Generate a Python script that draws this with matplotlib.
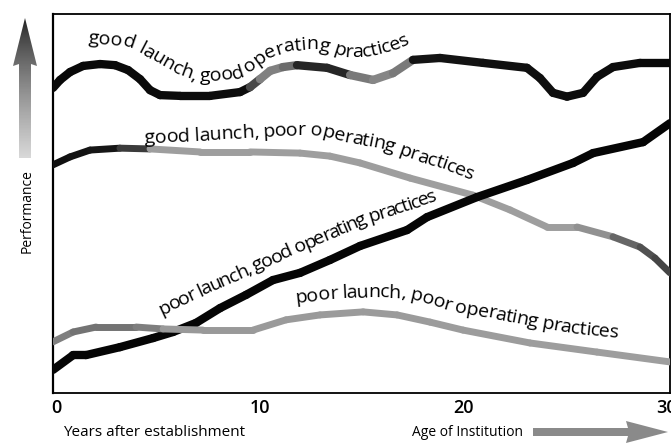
import numpy as np
import matplotlib
matplotlib.use("Agg")
import matplotlib.pyplot as plt
from matplotlib.collections import LineCollection
from matplotlib.font_manager import FontProperties
from matplotlib.transforms import IdentityTransform
from matplotlib.patches import Polygon

# ---- data (years after establishment, performance 0-100) ----
gg_years = [-0.15, 0.20, 0.69, 1.33, 2.16, 2.90, 3.54, 4.13, 4.62, 5.11, 6.09, 7.57,
            9.04, 9.53, 10.02, 10.52, 11.15, 11.84, 13.32, 14.45, 15.58, 16.56, 17.54,
            18.87, 20.98, 23.14, 23.78, 24.42, 25.11, 25.90, 26.58, 27.37, 28.70, 30.17]
gg_perf = [80.5, 82.6, 84.7, 86.3, 86.8, 86.5, 85.2, 82.8, 79.9, 78.6, 78.4, 78.4,
           79.4, 80.7, 82.8, 85.0, 86.0, 86.5, 85.8, 83.9, 82.6, 84.4, 87.9,
           88.4, 87.1, 85.8, 83.1, 79.2, 78.2, 79.2, 83.4, 86.0, 87.1, 87.1]

gp_years = [-0.15, 0.69, 1.67, 3.14, 4.62, 7.08, 9.53, 11.99, 13.46, 14.94, 17.40,
            20.49, 22.31, 24.13, 25.60, 27.37, 28.70, 29.43, 30.17]
gp_perf = [60.2, 62.3, 64.1, 64.6, 64.4, 63.6, 63.6, 63.3, 62.5, 60.7, 56.7,
           52.2, 48.3, 43.8, 43.8, 41.2, 38.5, 35.6, 31.7]

pg_years = [-0.15, 0.84, 1.47, 3.14, 4.77, 5.75, 6.88, 8.06, 9.34, 10.66, 11.99,
            13.46, 14.94, 17.25, 18.23, 20.69, 23.14, 25.41, 26.39, 28.85, 30.17]
pg_perf = [6.1, 10.0, 10.0, 12.1, 14.5, 16.1, 18.5, 22.4, 25.9, 29.8, 31.7,
           35.1, 38.8, 43.0, 46.4, 51.7, 56.2, 60.7, 63.3, 66.2, 71.2]

pp_years = [-0.15, 0.84, 1.97, 3.93, 5.26, 7.22, 9.68, 11.30, 12.97, 15.09, 16.76,
            18.38, 20.00, 23.29, 26.58, 30.17]
pp_perf = [13.5, 16.1, 17.4, 17.4, 16.9, 16.6, 16.6, 19.3, 20.6, 21.4, 20.6,
           18.7, 16.6, 13.2, 10.8, 8.2]

tick_years = [0, 10, 20, 30]
tick_labels = ["0", "10", "20", "30"]

curve_labels = ["good launch, good operating practices",
                "good launch, poor operating practices",
                "poor launch, good operating practices",
                "poor launch, poor operating practices"]

# ---- layout ----
W, H = 671, 443
fig = plt.figure(figsize=(W / 100, H / 100), dpi=100)
ax = fig.add_axes([53 / W, 50 / H, 617 / W, 379 / H])
ax.set_xlim(-0.15, 30.17)
ax.set_ylim(0, 100)

FONT = "Open Sans"


def shaded_line(x, y, shade, lw):
    # grey level along the curve: anchors (year, grey)
    x = np.asarray(x, float)
    y = np.asarray(y, float)
    pts = np.column_stack([x, y])
    segs = np.stack([pts[:-1], pts[1:]], axis=1)
    mids = (x[:-1] + x[1:]) / 2
    g = np.interp(mids, shade[0], shade[1])
    lc = LineCollection(segs, colors=[(v, v, v) for v in g], linewidths=lw,
                        capstyle="round", joinstyle="round", zorder=3)
    ax.add_collection(lc)


shaded_line(gg_years, gg_perf,
            ([-1, 9.3, 10.2, 11.3, 12.2, 14.2, 15.2, 17.0, 18.0, 31],
             [0.03, 0.05, 0.5, 0.5, 0.15, 0.15, 0.55, 0.5, 0.08, 0.03]), 6)
shaded_line(gp_years, gp_perf,
            ([-1, 3.5, 5.0, 26.0, 28.5, 31], [0.05, 0.1, 0.62, 0.62, 0.35, 0.2]), 5)
shaded_line(pg_years, pg_perf, ([-1, 31], [0.02, 0.02]), 6)
shaded_line(pp_years, pp_perf,
            ([-1, 1, 4, 6, 31], [0.6, 0.45, 0.45, 0.6, 0.62]), 5)

ax.set_xticks(tick_years)
ax.set_xticklabels(tick_labels, fontsize=13, family=FONT, fontweight="semibold")
ax.tick_params(axis="x", length=0, pad=4)
ax.set_yticks([])
for side in ["left", "bottom", "top", "right"]:
    ax.spines[side].set_color("black")
    ax.spines[side].set_linewidth(1.3)
ax.spines["left"].set_linewidth(1.6)

# ---- labels that bend along the curves ----
fig.canvas.draw()
renderer = fig.canvas.get_renderer()


def text_on_path(text, path_px, size):
    fp = FontProperties(family=FONT, size=size)

    def adv(s):
        w1 = renderer.get_text_width_height_descent(s + "l", fp, ismath=False)[0]
        w0 = renderer.get_text_width_height_descent("l", fp, ismath=False)[0]
        return w1 - w0

    starts = [adv(text[:i]) for i in range(len(text) + 1)]
    pts = np.array(path_px, float)
    pts[:, 1] = H - pts[:, 1]
    d = np.hypot(*np.diff(pts, axis=0).T)
    cum = np.concatenate([[0], np.cumsum(d)])
    extra = (cum[-1] - starts[-1]) / (len(text) - 1)
    for i, ch in enumerate(text):
        if ch == " ":
            continue
        s = (starts[i] + starts[i + 1]) / 2 + i * extra
        x = np.interp(s, cum, pts[:, 0])
        y = np.interp(s, cum, pts[:, 1])
        xa, ya = np.interp(s - 7, cum, pts[:, 0]), np.interp(s - 7, cum, pts[:, 1])
        xb, yb = np.interp(s + 7, cum, pts[:, 0]), np.interp(s + 7, cum, pts[:, 1])
        ang = np.degrees(np.arctan2(yb - ya, xb - xa))
        fig.text(x, y, ch, transform=IdentityTransform(), fontproperties=fp,
                 ha="center", va="baseline", rotation=ang, rotation_mode="anchor",
                 color="black", zorder=5)


label_paths = [
    [(88, 43), (125, 46), (140, 53), (160, 65), (180, 76), (195, 81), (215, 81),
     (240, 78), (255, 68), (270, 57), (290, 51), (315, 49), (330, 52), (345, 57),
     (365, 57), (380, 54), (395, 50), (410, 43)],
    [(145, 143), (190, 141), (265, 137), (300, 135), (320, 136), (340, 141),
     (385, 150), (410, 159), (440, 168), (472, 180)],
    [(162, 315), (200, 297), (253, 273), (297, 253), (340, 235), (370, 222),
     (400, 213), (438, 200)],
    [(296, 303), (330, 299), (370, 297), (403, 298), (425, 303), (450, 311),
     (490, 318), (530, 326), (570, 333), (618, 338)],
]
for txt, path in zip(curve_labels, label_paths):
    text_on_path(txt, path, 14)

# ---- axis titles and arrows ----
fig.text(63 / W, 1 - 432 / H, "Years after establishment", family=FONT, fontsize=11,
         ha="left", va="center")
fig.text(412 / W, 1 - 432 / H, "Age of Institution", family=FONT, fontsize=10,
         ha="left", va="center")
fig.text(27 / W, 1 - 211 / H, "Performance", family=FONT, fontsize=10,
         rotation=90, ha="center", va="center")

ov = fig.add_axes([0, 0, 1, 1], zorder=10)
ov.set_xlim(0, W)
ov.set_ylim(H, 0)
ov.axis("off")
ov.patch.set_alpha(0)

up = Polygon([(25, 18), (37, 66), (31, 64), (31, 158), (19, 158), (19, 64), (13, 66)],
             closed=True, facecolor="none", edgecolor="none")
ov.add_patch(up)
grad_v = np.linspace(0.05, 0.8, 100)[:, None] ** 0.7 * np.ones((1, 2))
im = ov.imshow(grad_v, extent=[10, 40, 160, 16], cmap="gray", vmin=0, vmax=1,
               aspect="auto", interpolation="bilinear")
im.set_clip_path(up)

right = Polygon([(533, 428), (628, 428), (626, 421), (668, 432), (626, 443),
                 (628, 436), (533, 436)],
                closed=True, facecolor="#8a8a8a", edgecolor="none")
ov.add_patch(right)

fig.savefig("out.png", dpi=100)
